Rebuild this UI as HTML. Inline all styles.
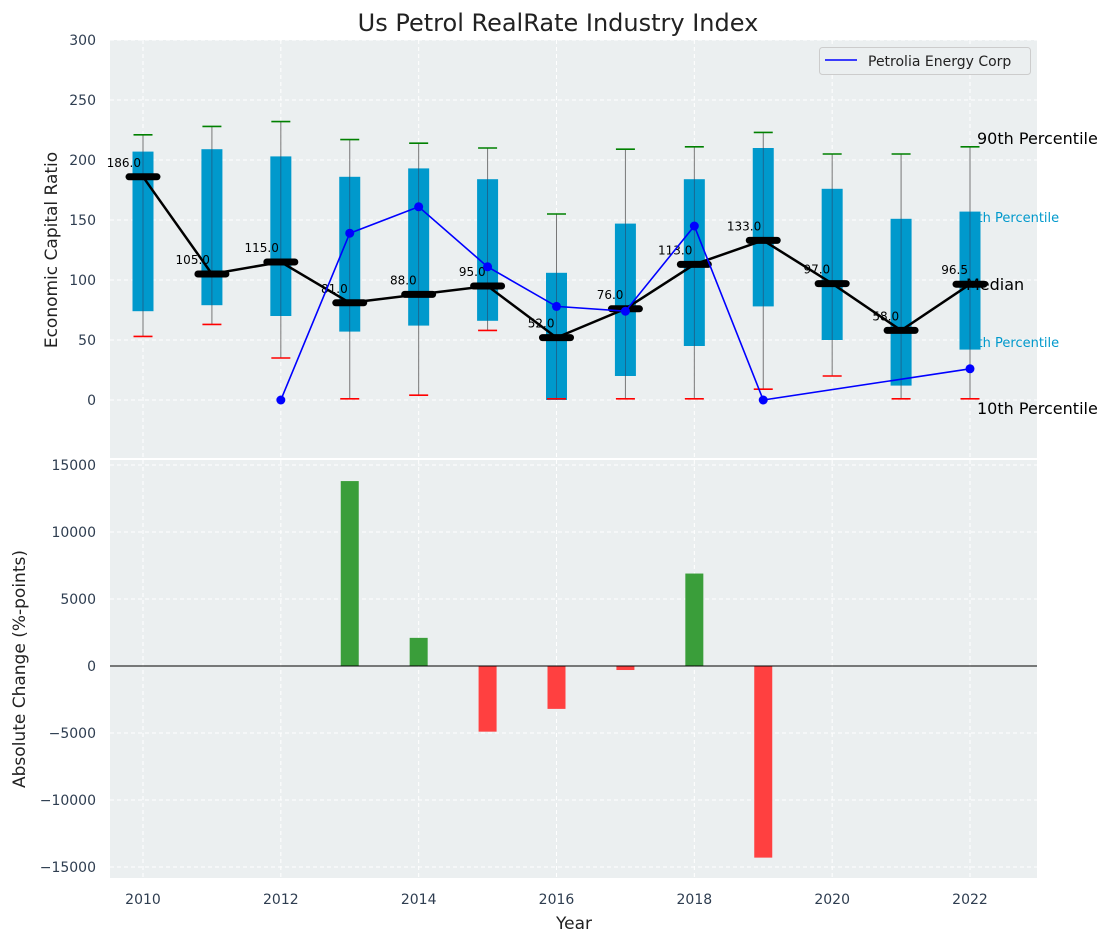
<!DOCTYPE html>
<html><head><meta charset="utf-8"><style>
body{margin:0;background:#fff;}
svg{display:block;font-family:"DejaVu Sans","Liberation Sans",sans-serif;}
</style></head><body>
<svg id="c" width="1112" height="942" xmlns="http://www.w3.org/2000/svg"></svg>
<script>
const years=[2010,2011,2012,2013,2014,2015,2016,2017,2018,2019,2020,2021,2022];
const q1=[74,79,70,57,62,66,0,20,45,78,50,12,42];
const q3=[207,209,203,186,193,184,106,147,184,210,176,151,157];
const lowW=[53,63,35,1,4,58,1,1,1,9,20,1,1];
const highW=[221,228,232,217,214,210,155,209,211,223,205,205,211];
const medians=[186,105,115,81,88,95,52,76,113,133,97,58,96.5];
const medianLabels=["186.0","105.0","115.0","81.0","88.0","95.0","52.0","76.0","113.0","133.0","97.0","58.0","96.5"];
const compYears=[2012,2013,2014,2015,2016,2017,2018,2019,2022];
const compValues=[0,139,161,111,78,74,145,0,26];
const changeYears=[2013,2014,2015,2016,2017,2018,2019];
const changeValues=[13800,2100,-4900,-3200,-300,6900,-14300];
const topTicks=[0,50,100,150,200,250,300];
const botTicks=[-15000,-10000,-5000,0,5000,10000,15000];
const xTicks=[2010,2012,2014,2016,2018,2020,2022];

const NS="http://www.w3.org/2000/svg";
const svg=document.getElementById('c');
function mk(tag,attrs,parent){const e=document.createElementNS(NS,tag);for(const k in attrs)e.setAttribute(k,attrs[k]);(parent||svg).appendChild(e);return e;}
const L=110,R=1037,T1=40,B1=458,T2=460,B2=878;
const x=v=>143+(v-2010)*(970-143)/12;
const y1=v=>400-v*1.2;
const y2=v=>666-v*(666-465)/15000;
const tickCol="#2e3d50";

let e;
e=mk('rect',{x:L,y:T1,width:R-L,height:B1-T1,fill:"#ebeff0"});


e=mk('rect',{x:L,y:T2,width:R-L,height:B2-T2,fill:"#ebeff0"});



xTicks.forEach(t=>{
 e=mk('line',{x1:x(t),x2:x(t),y1:T1,y2:B1,stroke:"#fff","stroke-dasharray":"4,3","stroke-width":1});
 
 
 e=mk('line',{x1:x(t),x2:x(t),y1:T2,y2:B2,stroke:"#fff","stroke-dasharray":"4,3","stroke-width":1});
 
 
 e=mk('text',{x:x(t),y:904,"text-anchor":"middle","font-size":14,fill:tickCol});
 e.textContent=t;
 
 
});
topTicks.forEach(t=>{
 e=mk('line',{x1:L,x2:R,y1:y1(t),y2:y1(t),stroke:"#fff","stroke-dasharray":"4,3"});
 
 
 e=mk('text',{x:96,y:y1(t)+5,"text-anchor":"end","font-size":14,fill:tickCol});
 e.textContent=t;
 
 
});
botTicks.forEach(t=>{
 e=mk('line',{x1:L,x2:R,y1:y2(t),y2:y2(t),stroke:"#fff","stroke-dasharray":"4,3"});
 
 
 e=mk('text',{x:96,y:y2(t)+5,"text-anchor":"end","font-size":14,fill:tickCol});
 e.textContent=t<0?"\u2212"+(-t):t;
 
 
});

const lab=(t,xx,yy,c,fs,n)=>{e=mk('text',{x:xx,y:yy,"font-size":fs,fill:c});e.textContent=t;};
lab("75th Percentile",961,222,"#0099cc",13,'p75-label');
lab("25th Percentile",961,347,"#0099cc",13,'p25-label');

years.forEach((yr,i)=>{
 const cx=x(yr);
 e=mk('line',{x1:cx,x2:cx,y1:y1(highW[i]),y2:y1(lowW[i]),stroke:"#777","stroke-width":1});
 
 
 e=mk('rect',{x:cx-10.5,y:y1(q3[i]),width:21,height:y1(q1[i])-y1(q3[i]),fill:"#0099cc"});
 
 
 e=mk('line',{x1:cx,x2:cx,y1:y1(q3[i]),y2:y1(q1[i]),stroke:"#335","stroke-width":0.8,opacity:0.6});
 
 
 e=mk('line',{x1:cx-9.5,x2:cx+9.5,y1:y1(highW[i]),y2:y1(highW[i]),stroke:"green","stroke-width":1.6});
 
 
 e=mk('line',{x1:cx-9.5,x2:cx+9.5,y1:y1(lowW[i]),y2:y1(lowW[i]),stroke:"red","stroke-width":1.6});
 
 
});
lab("Median",966,290,"#000",16,'median-label');
e=mk('polyline',{points:years.map((yr,i)=>x(yr)+","+y1(medians[i])).join(" "),fill:"none",stroke:"#000","stroke-width":2.5});


years.forEach((yr,i)=>{
 const cx=x(yr),cy=y1(medians[i]);
 e=mk('line',{x1:cx-14,x2:cx+14,y1:cy,y2:cy,stroke:"#000","stroke-width":7,"stroke-linecap":"round"});
 
 
 e=mk('text',{x:cx-2,y:cy-10,"text-anchor":"end","font-size":12,fill:"#000"});
 e.textContent=medianLabels[i];
 
 
});
e=mk('polyline',{points:compYears.map((yr,i)=>x(yr)+","+y1(compValues[i])).join(" "),fill:"none",stroke:"#0000ff","stroke-width":1.6});


compYears.forEach((yr,i)=>{
 e=mk('circle',{cx:x(yr),cy:y1(compValues[i]),r:4.5,fill:"#0000ff"});
 
 
});
lab("90th Percentile",977,144,"#000",16,'p90-label');
lab("10th Percentile",977,414,"#000",16,'p10-label');

e=mk('rect',{x:819.5,y:47.5,width:211,height:27,rx:3,fill:"#ebeff0",stroke:"#ccc"});


e=mk('line',{x1:825,x2:857,y1:60,y2:60,stroke:"#0000ff","stroke-width":1.6});


lab("Petrolia Energy Corp",868,66,"#222",14,'legend-entry');

changeValues.forEach((v,i)=>{
 const cx=x(changeYears[i]);
 const yy=Math.min(y2(v),y2(0)),h=Math.abs(y2(v)-y2(0));
 e=mk('rect',{x:cx-9,y:yy,width:18,height:h,fill:v>=0?"#3a9e3a":"#ff4040"});
 
 
});
e=mk('line',{x1:L,x2:R,y1:y2(0),y2:y2(0),stroke:"#000","stroke-width":1});



e=mk('text',{x:558,y:31,"text-anchor":"middle","font-size":24,fill:"#222"});
e.textContent="Us Petrol RealRate Industry Index";


e=mk('text',{x:574,y:929,"text-anchor":"middle","font-size":17,fill:"#222"});
e.textContent="Year";


e=mk('text',{x:0,y:0,"text-anchor":"middle","font-size":17,fill:"#222",transform:"translate(57,250) rotate(-90)"});
e.textContent="Economic Capital Ratio";


e=mk('text',{x:0,y:0,"text-anchor":"middle","font-size":17,fill:"#222",transform:"translate(25,669) rotate(-90)"});
e.textContent="Absolute Change (%-points)";


</script>
</body></html>
